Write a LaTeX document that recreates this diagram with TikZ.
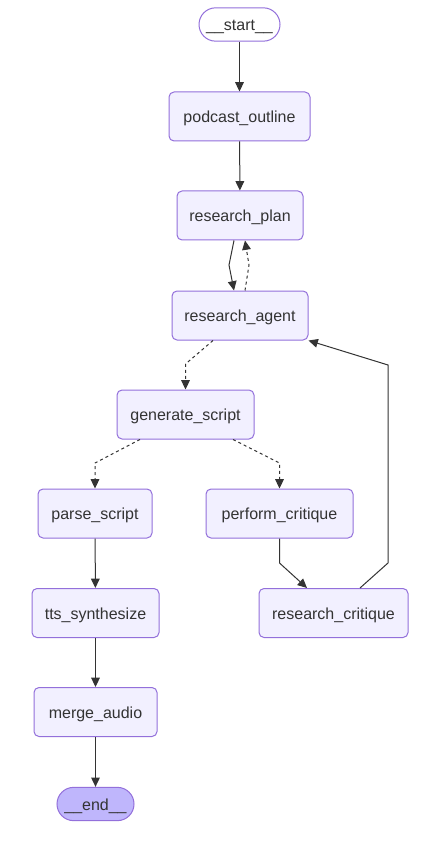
\documentclass[tikz,border=0pt]{standalone}
\usepackage{fontspec}
\setmainfont{Liberation Sans}
\usetikzlibrary{arrows.meta,calc}
\definecolor{nodefill}{HTML}{F2F0FF}
\definecolor{nodeborder}{HTML}{9370DB}
\definecolor{endfill}{HTML}{BFB6FC}
\definecolor{edgecol}{HTML}{333333}
\definecolor{textcol}{HTML}{333333}
\begin{document}
\begin{tikzpicture}[x=0.75pt,y=-0.75pt,
 box/.style={draw=nodeborder, fill=nodefill, rounded corners=3.75pt, line width=0.75pt, text=textcol, font=\fontsize{12}{14}\selectfont, inner sep=0pt, text height=9.3pt, text depth=0pt, minimum height=36.75pt},
 term/.style={box, rounded corners=12.5pt, minimum height=25pt},
 edge/.style={draw=edgecol, line width=0.75pt, -{Triangle[length=7pt,width=6.5pt]}},
 dot/.style={edge, dash pattern=on 2.25pt off 2.25pt}
]
\useasboundingbox (0,0) rectangle (442,841);
\fill[white] (0,0) rectangle (442,841);

\node[term, fill=white, minimum width=60.75pt] (start) at (239.5,24.5) {\_\_start\_\_};
\node[box, minimum width=105.75pt] (outline) at (239.5,116.5) {podcast\_outline};
\node[box, minimum width=94.5pt] (rp) at (240,215.5) {research\_plan};
\node[box, minimum width=102pt] (ra) at (240,315.5) {research\_agent};
\node[box, minimum width=102.75pt] (gs) at (185.5,414.5) {generate\_script};
\node[box, minimum width=85.5pt] (ps) at (95,513.5) {parse\_script};
\node[box, minimum width=110.25pt] (pc) at (279.5,513.5) {perform\_critique};
\node[box, minimum width=95.25pt] (tts) at (95.5,613) {tts\_synthesize};
\node[box, minimum width=111.75pt] (rc) at (333.5,613) {research\_critique};
\node[box, minimum width=92.25pt] (ma) at (95.5,712) {merge\_audio};
\node[term, fill=endfill, minimum width=57.75pt] (end) at (95.5,804) {\_\_end\_\_};

\draw[edge] (start) -- (outline);
\draw[edge] (outline) -- (rp);
\draw[edge] ([xshift=-4.5pt]rp.south) -- (229,265) -- ([xshift=-4.5pt]ra.north);
\draw[dot] ([xshift=3.75pt]ra.north) -- (249,265) -- ([xshift=3.75pt]rp.south);
\draw[dot] ([xshift=-20.25pt]ra.south) -- (185.5,364) -- (gs.north);
\draw[dot] ([xshift=-34.125pt]gs.south) -- (95,463) -- (ps.north);
\draw[dot] ([xshift=35.625pt]gs.south) -- (279.5,463) -- (pc.north);
\draw[edge] (ps) -- (tts);
\draw[edge] (pc.south) -- (279.5,563) -- ([xshift=-19.875pt]rc.north);
\draw[edge] ([xshift=19.875pt]rc.north) -- (388,563) -- (388,365) -- (ra.south east);
\draw[edge] (tts) -- (ma);
\draw[edge] (ma) -- (end);
\end{tikzpicture}
\end{document}
